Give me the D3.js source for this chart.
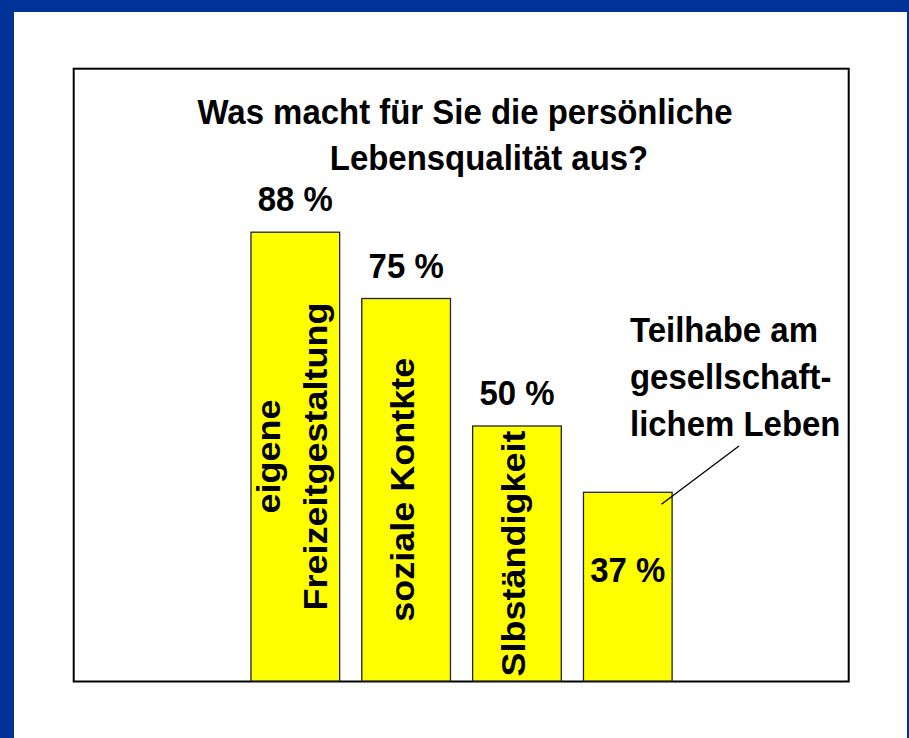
<!DOCTYPE html>
<html>
<head>
<meta charset="utf-8">
<script src="https://cdn.jsdelivr.net/npm/d3@7"></script>
<style>
  html, body { margin: 0; padding: 0; background: #003399; }
  svg { display: block; }
  text { font-family: "Liberation Sans", Arial, Helvetica, sans-serif; font-weight: bold; fill: #000; }
</style>
</head>
<body>
<script>
// ---- data ----
const titleLines = ["Was macht für Sie die persönliche", "Lebensqualität aus?"];
const categories = ["eigene Freizeitgestaltung", "soziale Kontkte", "Slbständigkeit", "Teilhabe am gesellschaftlichem Leben"];
const values = [88, 75, 50, 37];
const valueLabels = ["88 %", "75 %", "50 %", "37 %"];
const barLabelLines = [["eigene", "Freizeitgestaltung"], ["soziale Kontkte"], ["Slbständigkeit"], []];
const calloutLines = ["Teilhabe am", "gesellschaft-", "lichem Leben"];

// ---- layout ----
const W = 909, H = 738;
const squeeze = 0.915;     // horizontal glyph compression seen in the reference
const fontSize = 36;
const lineGap = 47;

const svg = d3.select("body").append("svg").attr("width", W).attr("height", H);

// white slide area (blue frame left/top/right)
svg.append("rect").attr("x", 14).attr("y", 12).attr("width", 893).attr("height", H - 12).attr("fill", "#fff");

// chart frame
const box = { left: 73.7, top: 68.7, right: 848.7, bottom: 681.5 };
svg.append("rect")
  .attr("x", box.left).attr("y", box.top)
  .attr("width", box.right - box.left).attr("height", box.bottom - box.top)
  .attr("fill", "#fff").attr("stroke", "#000").attr("stroke-width", 2);

// scales
const x = d3.scaleBand().domain(categories).range([239.9, 683.2]).paddingInner(0.2).paddingOuter(0.1);
const y = d3.scaleLinear().domain([0, 100]).range([681, 171]);

// title
const titleX = [465, 489];
svg.append("g").selectAll("text").data(titleLines).join("text")
  .attr("text-anchor", "middle")
  .attr("font-size", fontSize)
  .attr("transform", (d, i) => `translate(${titleX[i]},${124 + i * 46}) scale(${squeeze},1)`)
  .text(d => d);

// bars
const data = categories.map((c, i) => ({ c, v: values[i], label: valueLabels[i], lines: barLabelLines[i], i }));
svg.append("g").selectAll("rect").data(data).join("rect")
  .attr("x", d => x(d.c))
  .attr("y", d => y(d.v))
  .attr("width", x.bandwidth())
  .attr("height", d => y(0) - y(d.v))
  .attr("fill", "#ffff00")
  .attr("stroke", "#222")
  .attr("stroke-width", 1.3);

// value labels: above bar, except the last one sits inside
svg.append("g").selectAll("text").data(data).join("text")
  .attr("text-anchor", "middle")
  .attr("font-size", fontSize)
  .attr("transform", d => {
    const cx = x(d.c) + x.bandwidth() / 2;
    const by = d.i === data.length - 1 ? y(d.v) + 90 : y(d.v) - 21;
    return `translate(${cx},${by}) scale(${squeeze},1)`;
  })
  .text(d => d.label);

// rotated category labels inside bars
const rot = svg.append("g");
data.forEach(d => {
  const cx = x(d.c) + x.bandwidth() / 2;
  const cy = (y(d.v) + y(0)) / 2;
  const n = d.lines.length;
  d.lines.forEach((line, k) => {
    const bx = cx + 8 + (k - (n - 1) / 2) * lineGap;
    rot.append("text")
      .attr("text-anchor", "middle")
      .attr("font-size", fontSize)
      .attr("transform", `translate(${bx},${cy}) rotate(-90) scale(1,${squeeze})`)
      .text(line);
  });
});

// callout for last category
const last = data[data.length - 1];
const calloutX = 630, calloutY0 = 342;
svg.append("g").selectAll("text").data(calloutLines).join("text")
  .attr("font-size", fontSize)
  .attr("transform", (d, i) => `translate(${calloutX},${calloutY0 + i * lineGap}) scale(${squeeze},1)`)
  .text(d => d);

svg.append("line")
  .attr("x1", x(last.c) + x.bandwidth() * 0.88)
  .attr("y1", y(last.v) + 12)
  .attr("x2", 739)
  .attr("y2", calloutY0 + (calloutLines.length - 1) * lineGap + 10)
  .attr("stroke", "#000")
  .attr("stroke-width", 1.3);
</script>
</body>
</html>
